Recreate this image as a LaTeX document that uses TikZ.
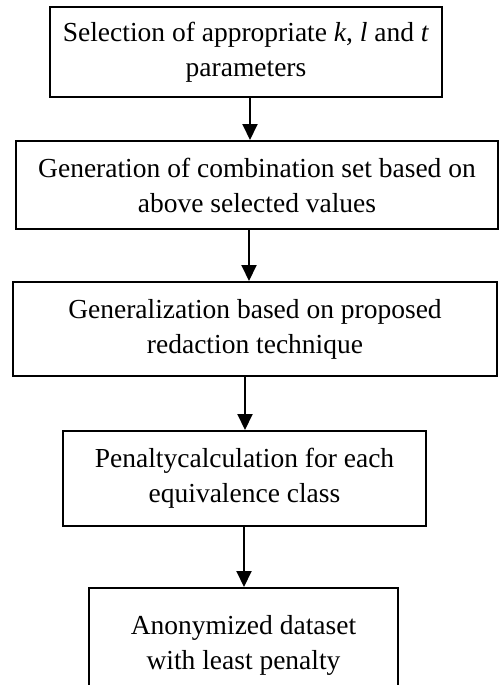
\documentclass[tikz,border=0pt]{standalone}
\usepackage{fontspec}
\setmainfont{Liberation Serif}
\usetikzlibrary{positioning, arrows.meta}

\begin{document}
\begin{tikzpicture}[
    x=1pt, y=1pt,
    stepbox/.style={draw, line width=2pt, rectangle, align=center, inner sep=0pt,
                    font=\fontsize{27.5}{35}\selectfont},
    flowarrow/.style={line width=2pt, -{Triangle[length=16pt, width=15pt]}}
]
    \useasboundingbox (0,0) rectangle (499,-685);

    % ========== steps ==========
    \node[stepbox, minimum width=392, minimum height=90] (select)  at (246, -52)
        {Selection of appropriate \textit{k}, \textit{l} and \textit{t}\\ parameters};
    \node[stepbox, minimum width=482, minimum height=88] (combine) at (257, -185)
        {Generation of combination set based on\\ above selected values};
    \node[stepbox, minimum width=484, minimum height=94] (general) at (255, -329)
        {Generalization based on proposed\\ redaction technique};
    \node[stepbox, minimum width=363, minimum height=95] (penalty) at (244.5, -478.5)
        {Penaltycalculation for each\\ equivalence class};
    \node[stepbox, minimum width=309, minimum height=114] (result) at (243.5, -645)
        {Anonymized dataset\\ with least penalty};

    % --- flow ---
    \draw[flowarrow] ([xshift=4pt]select.south) -- ([xshift=4pt]select.south |- combine.north);
    \draw[flowarrow] ([xshift=-8pt]combine.south) -- ([xshift=-8pt]combine.south |- general.north);
    \draw[flowarrow] ([xshift=0.5pt]penalty.north |- general.south) -- ([xshift=0.5pt]penalty.north);
    \draw[flowarrow] ([xshift=-0.5pt]penalty.south) -- ([xshift=-0.5pt]penalty.south |- result.north);
\end{tikzpicture}
\end{document}
